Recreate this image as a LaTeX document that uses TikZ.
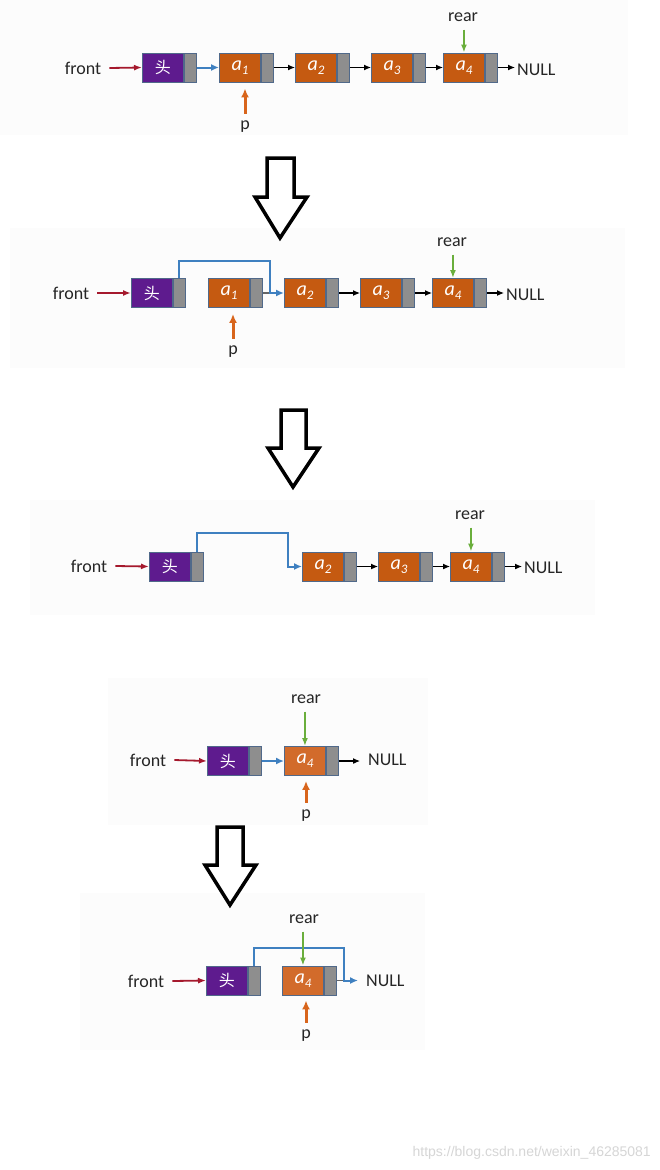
\documentclass[tikz,border=0pt]{standalone}
\usepackage{fontspec}
\setmainfont{Carlito}
\newfontfamily\cjkfont{Noto Sans CJK SC}
\newfontfamily\wmfont{Liberation Sans}
\usetikzlibrary{arrows.meta}
\definecolor{hpurple}{HTML}{5E1B8E}
\definecolor{aorange}{HTML}{C55A11}
\definecolor{aorangeb}{HTML}{D26B2B}
\definecolor{pgray}{HTML}{8E8E8E}
\definecolor{bord}{HTML}{50698A}
\definecolor{fred}{HTML}{A5192D}
\definecolor{lblue}{HTML}{3F80C0}
\definecolor{rgreen}{HTML}{6AAE3C}
\definecolor{porange}{HTML}{D8651C}
\definecolor{panelbg}{HTML}{FCFCFC}
\definecolor{wmgray}{HTML}{D6D6D6}
\newcommand{\mkhead}[3]{\node[headbox] (#1) at (#2,#3) {头};\node[ptrbox] (#1p) at (#1.east) {};}
\newcommand{\mkelem}[5]{\node[elbox, fill=#5] (#1) at (#2,#3) {a\raisebox{-4pt}{\fontsize{13}{13}\selectfont #4}};\node[ptrbox] (#1p) at (#1.east) {};}
\begin{document}
\begin{tikzpicture}[x=1pt,y=-1pt,
  datbox/.style={draw=bord, line width=0.9pt, minimum width=41pt, minimum height=29pt, inner sep=0pt, anchor=west, text=white},
  headbox/.style={datbox, fill=hpurple, font=\cjkfont\fontsize{16}{16}\selectfont},
  elbox/.style={datbox, fill=aorange, font=\itshape\fontsize{20}{20}\selectfont},
  ptrbox/.style={draw=bord, line width=0.9pt, fill=pgray, minimum width=12pt, minimum height=29pt, inner sep=0pt, anchor=west},
  lbl/.style={font=\fontsize{18}{18}\selectfont, inner sep=0pt, text=black!85},
  nulllbl/.style={lbl, anchor=west},
  frontarr/.style={-{Latex[length=8pt,width=6pt]}, fred, line width=1.8pt},
  nextarr/.style={-{Latex[length=7pt,width=6pt]}, black, line width=1.1pt},
  bluearr/.style={-{Latex[length=8pt,width=7pt]}, lblue, line width=2pt},
  bluelink/.style={-{Latex[length=8pt,width=7pt]}, lblue, line width=2pt},
  graylink/.style={black!60, line width=1.1pt},
  reararr/.style={-{Latex[length=8pt,width=6pt]}, rgreen, line width=1.8pt},
  parr/.style={-{Latex[length=9pt,width=8pt]}, porange, line width=3pt},
  bigarrow/.style={draw=black, fill=white, line width=3.5pt, line join=miter},
  panel/.style={fill=panelbg, draw=none}
]
\useasboundingbox (0,0) rectangle (660,1170);
\fill[white] (0,0) rectangle (660,1170);
% panels
\fill[panel] (0,0) rectangle (628,135);
\fill[panel] (10,228) rectangle (625,368);
\fill[panel] (30,500) rectangle (595,615);
\fill[panel] (108,678) rectangle (428,825);
\fill[panel] (80,893) rectangle (425,1050);

% ---------- panel 1 ----------
\mkhead{h1}{142}{67.5}
\mkelem{a11}{219}{67.5}{1}{aorange}
\mkelem{a12}{295}{67.5}{2}{aorange}
\mkelem{a13}{371}{67.5}{3}{aorange}
\mkelem{a14}{443}{67.5}{4}{aorange}
\node[lbl] (f1) at (83,68) {front};
\node[nulllbl] (n1) at (517,70) {NULL};
\node[lbl] (r1) at (463,17) {rear};
\node[lbl] (q1) at (245,127) {p};
\draw[frontarr] ([xshift=8pt]f1.east) -- (h1.west);
\draw[bluearr] (h1p.east) -- (a11.west);
\draw[nextarr] (a11p.east) -- (a12.west);
\draw[nextarr] (a12p.east) -- (a13.west);
\draw[nextarr] (a13p.east) -- (a14.west);
\draw[nextarr, shorten >=2pt] (a14p.east) -- (n1.west |- a14p.east);
\draw[reararr, shorten <=8pt] (a14.north |- r1.south) -- (a14.north);
\draw[parr, shorten <=7pt, shorten >=6pt] (q1.north) -- (q1.north |- a11.south);

% ---------- arrow 1 ----------
\draw[bigarrow] (267,158) -- (294,158) -- (294,197) -- (307,197) -- (280,238) -- (255,197) -- (267,197) -- cycle;

% ---------- panel 2 ----------
\mkhead{h2}{131}{293}
\mkelem{a21}{208}{293}{1}{aorange}
\mkelem{a22}{284}{293}{2}{aorange}
\mkelem{a23}{360}{293}{3}{aorange}
\mkelem{a24}{432}{293}{4}{aorange}
\node[lbl] (f2) at (71,293) {front};
\node[nulllbl] (n2) at (506,295) {NULL};
\node[lbl] (r2) at (452,242) {rear};
\node[lbl] (q2) at (233,352) {p};
\coordinate (t2) at (270,261);
\coordinate (k2) at (270,293);
\draw[frontarr] ([xshift=8pt]f2.east) -- (h2.west);
\draw[graylink] (a21p.east) -- (k2);
\draw[bluelink] (h2p.north) |- (t2) -- (k2) -- (a22.west);
\draw[nextarr] (a22p.east) -- (a23.west);
\draw[nextarr] (a23p.east) -- (a24.west);
\draw[nextarr, shorten >=2pt] (a24p.east) -- (n2.west |- a24p.east);
\draw[reararr, shorten <=8pt] (a24.north |- r2.south) -- (a24.north);
\draw[parr, shorten <=7pt, shorten >=6pt] (q2.north) -- (q2.north |- a21.south);

% ---------- arrow 2 ----------
\draw[bigarrow] (281,410) -- (306,410) -- (306,448) -- (319,448) -- (293,487) -- (268,448) -- (281,448) -- cycle;

% ---------- panel 3 ----------
\mkhead{h3}{149}{566.5}
\mkelem{a32}{302}{566.5}{2}{aorange}
\mkelem{a33}{378}{566.5}{3}{aorange}
\mkelem{a34}{450}{566.5}{4}{aorange}
\node[lbl] (f3) at (89,566) {front};
\node[nulllbl] (n3) at (524,568) {NULL};
\node[lbl] (r3) at (470,515) {rear};
\coordinate (t3) at (288,533);
\coordinate (k3) at (288,566.5);
\draw[frontarr] ([xshift=8pt]f3.east) -- (h3.west);
\draw[bluelink] (h3p.north) |- (t3) -- (k3) -- (a32.west);
\draw[nextarr] (a32p.east) -- (a33.west);
\draw[nextarr] (a33p.east) -- (a34.west);
\draw[nextarr, shorten >=2pt] (a34p.east) -- (n3.west |- a34p.east);
\draw[reararr, shorten <=8pt] (a34.north |- r3.south) -- (a34.north);

% ---------- panel 4 ----------
\mkhead{h4}{207}{761}
\mkelem{a44}{284}{761}{4}{aorangeb}
\node[lbl] (f4) at (148,760) {front};
\node[nulllbl] (n4) at (368,760) {NULL};
\node[lbl] (r4) at (306,699) {rear};
\node[lbl] (q4) at (306,816) {p};
\draw[frontarr] ([xshift=8pt]f4.east) -- (h4.west);
\draw[bluearr] (h4p.east) -- (a44.west);
\draw[nextarr, shorten >=8pt] (a44p.east) -- (n4.west |- a44p.east);
\draw[reararr, shorten <=8pt] (a44.north |- r4.south) -- (a44.north);
\draw[parr, shorten <=7pt, shorten >=5pt] (q4.north) -- (q4.north |- a44.south);

% ---------- arrow 3 ----------
\draw[bigarrow] (217,827) -- (243,827) -- (243,865) -- (256,865) -- (230,905) -- (205,865) -- (217,865) -- cycle;

% ---------- panel 5 ----------
\mkhead{h5}{206}{980.5}
\mkelem{a54}{282}{980.5}{4}{aorangeb}
\node[lbl] (f5) at (146,981) {front};
\node[nulllbl] (n5) at (366,981) {NULL};
\node[lbl] (r5) at (304,919) {rear};
\node[lbl] (q5) at (306,1036) {p};
\coordinate (t5) at (344,948);
\coordinate (k5) at (344,980.5);
\draw[frontarr] ([xshift=8pt]f5.east) -- (h5.west);
\draw[graylink] (a54p.east) -- (k5);
\draw[bluelink, shorten >=8pt] (h5p.north) |- (t5) -- (k5) -- (n5.west |- k5);
\draw[reararr, shorten <=8pt] (a54.north |- r5.south) -- (a54.north);
\draw[parr, shorten <=7pt, shorten >=5pt] (q5.north) -- (q5.north |- a54.south);

% watermark
\node[font=\wmfont\fontsize{14}{14}\selectfont, text=wmgray, anchor=east, inner sep=0pt] (wm) at (651,1153) {https://blog.csdn.net/weixin\_46285081};
\end{tikzpicture}
\end{document}
